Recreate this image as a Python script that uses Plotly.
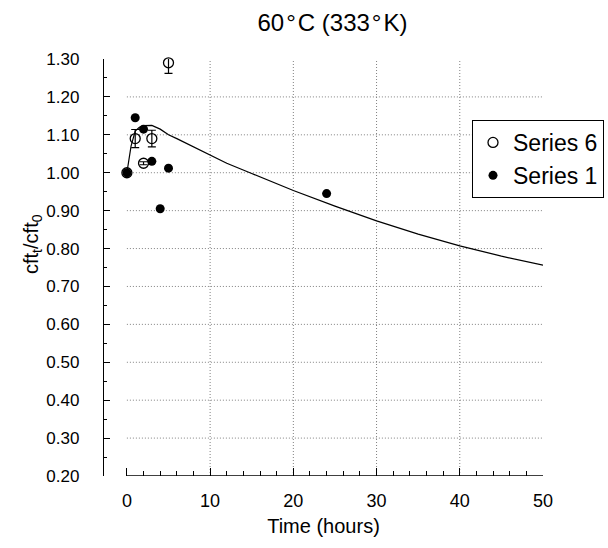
import plotly.graph_objects as go

# ---- data ----
s6_t = [0, 1, 2, 3, 5]
s6_y = [1.00, 1.09, 1.025, 1.09, 1.29]
s6_err = [0.0, 0.024, 0.004, 0.022, 0.028]

s1_t = [0, 1, 2, 3, 4, 5, 24]
s1_y = [1.00, 1.145, 1.115, 1.03, 0.905, 1.012, 0.945]

fit_t = [0, 0.5, 1, 1.5, 2, 3, 4, 5, 6, 8, 10, 12, 15, 20, 25, 30, 35, 40, 45, 50]
fit_y = [1.00, 1.07, 1.11, 1.12, 1.124, 1.125, 1.115, 1.10, 1.09, 1.068, 1.046,
         1.025, 0.998, 0.953, 0.912, 0.873, 0.838, 0.807, 0.78, 0.756]

x_ticks = [0, 10, 20, 30, 40, 50]
x_minor = [v for v in range(2, 50, 2) if v % 10 != 0]
y_ticks = [0.2, 0.3, 0.4, 0.5, 0.6, 0.7, 0.8, 0.9, 1.0, 1.1, 1.2, 1.3]
y_minor = [round(v + 0.05, 2) for v in y_ticks[:-1]]
x_grid = [10, 20, 30, 40]
y_grid = y_ticks[1:-1]

FONT = "Arial, Liberation Sans, sans-serif"

fig = go.Figure()

# fitted curve
fig.add_trace(go.Scatter(x=fit_t, y=fit_y, mode="lines",
                         line=dict(color="black", width=1.2),
                         showlegend=False, hoverinfo="skip"))

fig.add_trace(go.Scatter(x=s6_t, y=s6_y, mode="markers", name="Series 6",
                         marker=dict(symbol="circle-open", size=10, color="black",
                                     line=dict(width=1.3, color="black")),
                         error_y=dict(type="data", array=s6_err, color="black",
                                      thickness=1.2, width=4),
                         cliponaxis=False))

fig.add_trace(go.Scatter(x=s1_t, y=s1_y, mode="markers", name="Series 1",
                         marker=dict(symbol="circle", size=9, color="black"),
                         cliponaxis=False))

shapes = []
for gy in y_grid:
    shapes.append(dict(type="line", xref="x", yref="y", x0=x_ticks[0], x1=x_ticks[-1],
                       y0=gy, y1=gy, layer="below",
                       line=dict(color="#808080", width=1, dash="1px,2px")))
for gx in x_grid:
    shapes.append(dict(type="line", xref="x", yref="y", x0=gx, x1=gx,
                       y0=y_ticks[0], y1=y_ticks[-1], layer="below",
                       line=dict(color="#808080", width=1, dash="1px,2px")))
# x axis baseline from first to last tick
shapes.append(dict(type="line", xref="x", yref="y", x0=x_ticks[0], x1=x_ticks[-1],
                   y0=y_ticks[0], y1=y_ticks[0], line=dict(color="black", width=1.3)))

fig.update_layout(
    width=608, height=548,
    margin=dict(l=104, r=65, t=59, b=72, autoexpand=False),
    plot_bgcolor="white", paper_bgcolor="white",
    font=dict(family=FONT, color="black", size=17),
    title=dict(text="60\u200a°\u200aC (333\u200a°\u200aK)", x=332.5 / 608, xanchor="center",
               y=1 - 23 / 548, yanchor="middle", yref="container",
               font=dict(size=24, family=FONT, color="black")),
    shapes=shapes,
    showlegend=True,
    legend=dict(x=(472 - 104) / 439, y=(476 - 120) / 417, xanchor="left", yanchor="top",
                bordercolor="black", borderwidth=1, bgcolor="white",
                font=dict(size=23, family=FONT, color="black"),
                tracegroupgap=0, itemwidth=30),
    xaxis=dict(range=[-2.75, 50], showgrid=False, zeroline=False, showline=False,
               tickmode="array", tickvals=x_ticks, ticktext=[str(v) for v in x_ticks],
               ticks="inside", ticklen=8, tickwidth=1, tickcolor="black",
               ticklabelstandoff=12, tickfont=dict(size=18),
               minor=dict(tickmode="array", tickvals=x_minor, ticks="inside",
                          ticklen=5, tickcolor="black", showgrid=False),
               title=dict(text="Time (hours)", standoff=8,
                          font=dict(size=20, family=FONT))),
    yaxis=dict(range=[0.2, 1.3], showgrid=False, zeroline=False, showline=True,
               linecolor="black", linewidth=1.3,
               tickmode="array", tickvals=y_ticks,
               ticktext=[f"{v:.2f}" for v in y_ticks],
               ticks="inside", ticklen=6, tickwidth=1, tickcolor="black",
               ticklabelstandoff=20, tickfont=dict(size=17),
               minor=dict(tickmode="array", tickvals=y_minor, ticks="inside",
                          ticklen=3, tickcolor="black", showgrid=False)),
    annotations=[dict(text="cft<sub>t</sub>/cft<sub>0</sub>", textangle=-90,
                      xref="paper", yref="paper",
                      x=-(104 - 32) / 439, y=(476 - 244) / 417,
                      xanchor="center", yanchor="middle", showarrow=False,
                      font=dict(size=20, family=FONT, color="black"))],
)

fig.write_html("out.html")
